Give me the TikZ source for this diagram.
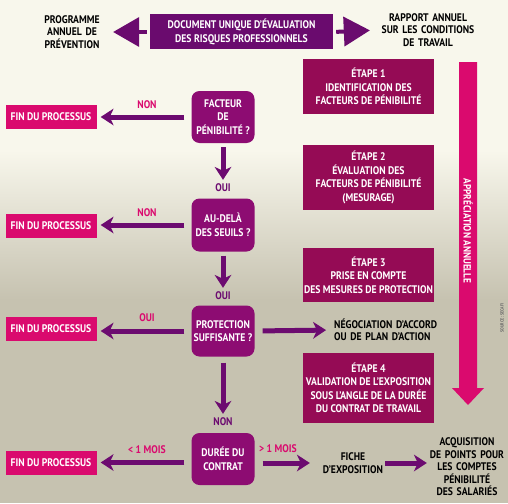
\documentclass[tikz,border=0pt]{standalone}
\usepackage{fontspec}
\setmainfont{PT Sans}[FakeStretch=0.88]
\usepackage{xcolor}
\usetikzlibrary{arrows.meta}

\definecolor{docpurple}{HTML}{6A0B6E}
\definecolor{qpurple}{HTML}{8D0C72}
\definecolor{etapered}{HTML}{950B55}
\definecolor{finpink}{HTML}{DA0A6E}
\definecolor{arrowpurple}{HTML}{6C0B70}
\definecolor{bgtop}{HTML}{F8F7EC}
\definecolor{bgbot}{HTML}{C6C2B0}

\newcommand{\boxfont}{\bfseries\fontsize{11}{13.5}\selectfont}

\tikzset{
	question/.style={fill=qpurple, rounded corners=8pt, minimum width=63pt, text=white, align=center, font=\boxfont, inner sep=0pt},
	etape/.style={fill=etapered, minimum width=131pt, text=white, align=center, font=\boxfont, inner sep=0pt},
	finbox/.style={fill=finpink, minimum width=91pt, minimum height=24pt, text=white, font=\boxfont, inner sep=0pt},
	blacktext/.style={align=center, font=\bfseries\fontsize{11}{12.5}\selectfont, inner sep=0pt},
	answer/.style={text=finpink, font=\boxfont, inner sep=0pt},
	flow/.style={draw=arrowpurple, line width=5pt, -{Stealth[length=13pt, width=17pt, inset=4pt, line width=0pt]}},
	bigarrow/.style={draw=docpurple, line width=4pt, -{Triangle[length=26pt, width=30pt, line width=0pt]}}
}

\begin{document}
\begin{tikzpicture}[x=1pt, y=-1pt]
	\useasboundingbox (0,0) rectangle (508,503);
	% background
	\fill[bgtop] (0,0) rectangle (508,503);
	\shade[top color=bgtop, bottom color=bgbot] (0,150) rectangle (508,300);
	\fill[bgbot] (0,300) rectangle (508,503);

	% top row
	\node[fill=docpurple, minimum width=183pt, minimum height=35pt, text=white, align=center, font=\boxfont, inner sep=0pt] (doc) at (241.5,32) {DOCUMENT UNIQUE D'ÉVALUATION\\DES RISQUES PROFESSIONNELS};
	\node[blacktext, text width=66pt] (prog) at (72,32) {PROGRAMME\\ANNUEL DE\\PRÉVENTION};
	\node[blacktext, text width=100pt] (rapport) at (428,30) {RAPPORT ANNUEL\\SUR LES CONDITIONS\\DE TRAVAIL};
	\draw[bigarrow, shorten <=3pt, shorten >=8pt] (doc.west) -- (prog.east);
	\draw[bigarrow, shorten <=3pt, shorten >=8pt] (doc.east) -- (rapport.west);

	% steps
	\node[etape, minimum height=55pt] (etape1) at (368.5,86.5) {ÉTAPE 1\\IDENTIFICATION DES\\FACTEURS DE PÉNIBILITÉ};
	\node[etape, minimum height=65pt] (etape2) at (368.5,177.5) {ÉTAPE 2\\ÉVALUATION DES\\FACTEURS DE PÉNIBILITÉ\\(MESURAGE)};
	\node[etape, minimum height=54pt] (etape3) at (368.5,275) {ÉTAPE 3\\PRISE EN COMPTE\\DES MESURES DE PROTECTION};
	\node[etape, minimum height=70pt] (etape4) at (368.5,388) {ÉTAPE 4\\VALIDATION DE L'EXPOSITION\\SOUS L'ANGLE DE LA DURÉE\\DU CONTRAT DE TRAVAIL};

	% yearly bar
	\fill[finpink] (459,62) -- (477,62) -- (477,388) -- (484,388) -- (468,405) -- (452,388) -- (459,388) -- cycle;
	\node[rotate=-90, text=white, font=\bfseries\fontsize{10.5}{12}\selectfont, inner sep=0pt] (annuel) at (468,231) {APPRÉCIATION ANNUELLE};
	\node[rotate=90, text=black!60, font=\bfseries\fontsize{4.5}{5}\selectfont, inner sep=0pt] (source) at (502,318) {SOURCE : SECAFI};

	% questions
	\node[question, minimum height=52pt] (q1) at (223,117) {FACTEUR\\DE\\PÉNIBILITÉ ?};
	\node[question, minimum height=53pt] (q2) at (223,225) {AU-DELÀ\\DES SEUILS ?};
	\node[question, minimum height=51pt] (q3) at (223,331) {PROTECTION\\SUFFISANTE ?};
	\node[question, minimum height=52pt] (q4) at (223,459) {DURÉE DU\\CONTRAT};

	% end boxes
	\node[finbox] (fin1) at (51,117) {FIN DU PROCESSUS};
	\node[finbox] (fin2) at (51,225.5) {FIN DU PROCESSUS};
	\node[finbox] (fin3) at (51,328.5) {FIN DU PROCESSUS};
	\node[finbox] (fin4) at (51,462.5) {FIN DU PROCESSUS};

	% answers
	\node[answer, text=arrowpurple] (oui1) at (223,188) {OUI};
	\node[answer, text=arrowpurple] (oui2) at (223,296) {OUI};
	\node[answer, text=arrowpurple] (non3) at (223,422) {NON};
	\node[answer] (non1) at (147,105) {NON};
	\node[answer] (non2) at (147,213) {NON};
	\node[answer] (oui3) at (147,318) {OUI};
	\node[answer] (moins) at (147,450) {< 1 MOIS};
	\node[answer] (plus) at (278,449) {> 1 MOIS};

	\draw[flow, shorten <=4pt, shorten >=4pt] (q1.south) -- (oui1.north);
	\draw[flow, shorten <=4pt, shorten >=4pt] (q2.south) -- (oui2.north);
	\draw[flow, shorten <=6pt, shorten >=4pt] (q3.south) -- (non3.north);
	\draw[flow, shorten <=7pt, shorten >=4pt] (q1.west) -- (fin1.east |- q1.west);
	\draw[flow, shorten <=7pt, shorten >=4pt] (q2.west) -- (fin2.east |- q2.west);
	\draw[flow, shorten <=7pt, shorten >=4pt] (q3.west) -- (fin3.east |- q3.west);
	\draw[flow, shorten <=7pt, shorten >=4pt] (q4.west |- fin4.east) -- (fin4.east);

	% outcomes
	\node[blacktext, text width=104pt, align=left, anchor=west] (nego) at (334,330) {NÉGOCIATION D'ACCORD\\OU DE PLAN D'ACTION};
	\node[blacktext, text width=64pt] (fiche) at (353,463) {FICHE\\D'EXPOSITION};
	\node[blacktext, text width=80pt] (acquis) at (467,467) {ACQUISITION\\DE POINTS POUR\\LES COMPTES\\PÉNIBILITÉ\\DES SALARIÉS};
	\draw[flow, shorten <=8pt, shorten >=8pt] (q3.east) -- (nego.west);
	\draw[flow, shorten <=8pt, shorten >=11pt] (q4.east |- fiche.west) -- (fiche.west);
	\draw[flow, shorten <=0pt, shorten >=0pt] (fiche.east) -- (acquis.west |- fiche.east);
\end{tikzpicture}
\end{document}
